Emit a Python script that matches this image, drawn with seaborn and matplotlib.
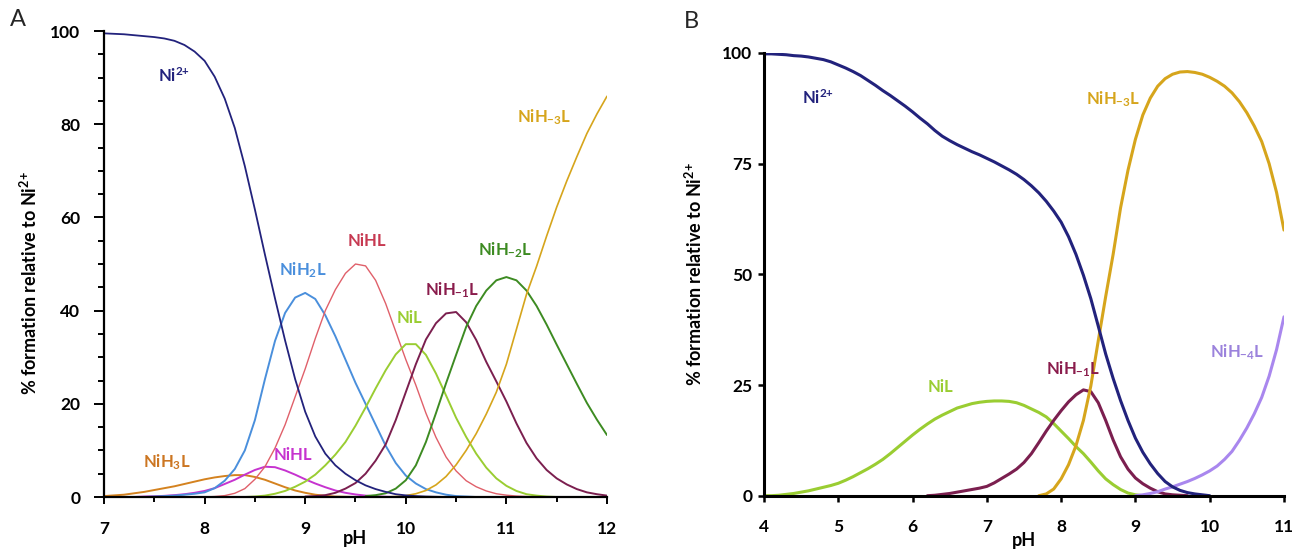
import numpy as np
import seaborn as sns
import matplotlib.pyplot as plt
from matplotlib.ticker import MultipleLocator

nan = np.nan

# ---- panel A : pH 7.0 .. 12.0, step 0.1
ph_a = np.round(np.arange(70, 121) / 10, 1)

ni_a = [99.5, 99.4, 99.3, 99.1, 98.9, 98.7, 98.4, 97.9, 97.0, 95.6,
        93.6, 90.2, 85.5, 79.2, 71.0, 61.7, 52.0, 42.6, 33.6, 25.3,
        18.3, 13.0, 9.3, 6.8, 5.0, 3.6, 2.5, 1.7, 1.1, 0.6,
        0.35, 0.2, 0.1, 0.05, 0.0] + [nan] * 16
nih2l_a = [nan] * 4 + [0.0, 0.1, 0.2, 0.3, 0.5, 0.7,
        1.0, 1.9, 3.5, 6.0, 10.0, 16.5, 25.3, 33.5, 39.5, 42.8,
        43.8, 42.5, 39.0, 34.5, 29.5, 24.5, 20.0, 15.5, 11.0, 7.3,
        4.6, 2.9, 1.7, 1.0, 0.5, 0.2, 0.1, 0.0] + [nan] * 13
nihl_a = [nan] * 10 + [0.0, 0.1, 0.3, 0.8, 1.8, 3.8, 6.5, 10.5, 15.5, 21.5,
        27.5, 34.0, 40.0, 44.5, 48.0, 50.0, 49.6, 46.5, 41.5, 35.5,
        29.5, 24.0, 18.0, 12.8, 8.6, 5.6, 3.5, 2.2, 1.3, 0.7,
        0.4, 0.2, 0.1, 0.0] + [nan] * 7
nihl_small_a = [nan] * 3 + [0.0, 0.1, 0.15, 0.25, 0.4, 0.6, 0.9,
        1.3, 1.9, 2.8, 3.7, 4.8, 5.8, 6.5, 6.4, 5.7, 4.8,
        3.8, 2.9, 2.1, 1.4, 0.9, 0.55, 0.3, 0.15, 0.05, 0.0] + [nan] * 21
nih3l_a = [0.2, 0.35, 0.5, 0.8, 1.1, 1.5, 1.9, 2.3, 2.8, 3.3,
        3.8, 4.2, 4.5, 4.7, 4.7, 4.3, 3.7, 2.9, 2.1, 1.4,
        0.9, 0.5, 0.25, 0.1, 0.05, 0.0] + [nan] * 25
nil_a = [nan] * 14 + [0.0, 0.1, 0.3, 0.7, 1.3, 2.2,
        3.3, 4.8, 6.8, 9.1, 11.8, 15.3, 19.2, 23.3, 27.2, 30.6,
        32.8, 32.8, 30.5, 26.5, 21.8, 17.0, 12.9, 9.3, 6.3, 4.0,
        2.4, 1.3, 0.6, 0.3, 0.1, 0.0] + [nan] * 5
nihm1_a = [nan] * 20 + [0.1, 0.2, 0.4, 0.9, 1.8, 3.0, 5.0, 7.8, 11.3, 16.5,
        22.5, 28.5, 33.8, 37.3, 39.4, 39.7, 37.5, 33.7, 29.0, 24.8,
        20.5, 15.8, 11.6, 8.3, 5.8, 4.0, 2.7, 1.7, 1.0, 0.6, 0.3]
nihm2_a = [nan] * 26 + [0.2, 0.4, 0.8, 1.8,
        3.6, 6.8, 11.8, 18.0, 24.4, 30.5, 36.5, 41.0, 44.3, 46.5,
        47.2, 46.5, 44.3, 41.0, 37.0, 32.7, 28.5, 24.3, 20.2, 16.6, 13.3]
nihm3_a = [nan] * 28 + [0.0, 0.1,
        0.3, 0.7, 1.4, 2.6, 4.4, 6.9, 10.0, 13.6, 17.8, 22.5,
        28.5, 36.0, 43.5, 49.5, 56.0, 62.2, 67.8, 73.0, 78.0, 82.2, 86.0]

# ---- panel B : pH 4.0 .. 11.0, step 0.1
ph_b = np.round(np.arange(40, 111) / 10, 1)

ni_b = [99.8, 99.8, 99.7, 99.6, 99.4, 99.3, 99.1, 98.8, 98.5, 98.0,
        97.3, 96.6, 95.8, 94.9, 93.8, 92.7, 91.5, 90.4, 89.2, 88.0,
        86.7, 85.3, 84.0, 82.5, 81.2, 80.2, 79.3, 78.5, 77.7, 77.0,
        76.2, 75.4, 74.5, 73.6, 72.6, 71.4, 70.0, 68.4, 66.5, 64.3,
        61.8, 58.5, 54.5, 49.8, 44.5, 38.3, 32.0, 26.5, 21.5, 17.0,
        13.0, 9.8, 7.2, 5.0, 3.2, 2.0, 1.2, 0.7, 0.4, 0.2,
        0.0] + [nan] * 10
nil_b = [0.0, 0.0, 0.1, 0.3, 0.5, 0.8, 1.1, 1.5, 1.9, 2.3,
        2.8, 3.5, 4.3, 5.2, 6.1, 7.1, 8.2, 9.5, 10.9, 12.3,
        13.7, 15.0, 16.2, 17.3, 18.2, 19.0, 19.8, 20.3, 20.8, 21.1,
        21.3, 21.4, 21.4, 21.3, 21.0, 20.4, 19.6, 18.8, 17.8, 16.3,
        14.6, 12.9, 11.1, 9.5, 7.6, 5.6, 3.8, 2.5, 1.4, 0.6,
        0.2, 0.0] + [nan] * 19
nihm1_b = [nan] * 22 + [0.0, 0.1, 0.3, 0.5, 0.8, 1.1, 1.4, 1.7,
        2.1, 2.9, 3.9, 4.9, 6.0, 7.5, 9.5, 12.0, 14.6, 17.0,
        19.2, 21.2, 22.8, 23.9, 23.5, 21.0, 17.0, 12.6, 8.8, 6.0,
        4.0, 2.7, 1.7, 0.9, 0.4, 0.2, 0.1, 0.0] + [nan] * 13
nihm3_b = [nan] * 37 + [0.0, 0.4, 1.5,
        3.8, 7.0, 11.3, 17.0, 24.8, 35.0, 45.0, 54.5, 65.0, 73.5,
        80.5, 86.0, 89.8, 92.5, 94.2, 95.2, 95.7, 95.8, 95.6, 95.2,
        94.5, 93.6, 92.5, 91.0, 89.0, 86.5, 83.5, 80.0, 75.0, 68.5, 60.0]
nihm4_b = [nan] * 50 + [0.0, 0.2, 0.5, 0.9, 1.5, 2.0, 2.6, 3.2, 3.9, 4.7,
        5.6, 6.7, 8.2, 10.0, 12.5, 15.3, 18.5, 22.2, 27.0, 33.0, 40.4]

NAVY = "#22227c"
BLUE = "#4a8fdc"
RED = "#e0606a"
MAGENTA = "#c633cf"
ORANGE = "#d4821f"
LIME = "#9acd32"
MAROON = "#7b1f4f"
GREEN = "#3d8b22"
GOLD = "#d6a51c"
LAVENDER = "#a987ee"

sns.set_theme(style="ticks")
plt.rcParams["font.family"] = ["Lato", "DejaVu Sans"]
plt.rcParams["font.weight"] = "bold"
plt.rcParams["mathtext.fontset"] = "custom"
plt.rcParams["mathtext.rm"] = "Lato:bold"
plt.rcParams["mathtext.bf"] = "Lato:bold"
plt.rcParams["mathtext.default"] = "bf"

fig = plt.figure(figsize=(12.92, 5.49), dpi=100)
ax_a = fig.add_axes([0.0805, 0.0947, 0.3893, 0.8488])
ax_b = fig.add_axes([0.5913, 0.0971, 0.4025, 0.8064])

series_a = [
    (nih3l_a, ORANGE, 1.4), (nihl_small_a, MAGENTA, 1.4), (nih2l_a, BLUE, 1.4),
    (nihl_a, RED, 1.0), (nil_a, LIME, 1.4), (nihm1_a, MAROON, 1.4),
    (nihm2_a, GREEN, 1.4), (nihm3_a, GOLD, 1.2), (ni_a, NAVY, 1.3),
]
for vals, col, lw in series_a:
    sns.lineplot(x=ph_a, y=vals, color=col, lw=lw, ax=ax_a)

series_b = [(nil_b, LIME), (nihm1_b, MAROON), (nihm3_b, GOLD),
            (nihm4_b, LAVENDER), (ni_b, NAVY)]
for vals, col in series_b:
    sns.lineplot(x=ph_b, y=vals, color=col, lw=2.2, ax=ax_b)

# labels
NI = r"Ni$^{2{+}}$"
labels_a = [
    (7.7, 90.5, NI, NAVY),
    (11.38, 81.5, r"NiH$_{-3}$L", GOLD),
    (9.61, 55.0, "NiHL", "#c73a52"),
    (8.98, 48.7, r"NiH$_2$L", BLUE),
    (10.99, 53.0, r"NiH$_{-2}$L", GREEN),
    (10.46, 44.4, r"NiH$_{-1}$L", "#8a1c4c"),
    (10.04, 38.4, "NiL", LIME),
    (8.88, 9.0, "NiHL", MAGENTA),
    (7.62, 7.5, r"NiH$_3$L", "#cc7622"),
]
for x, y, t, c in labels_a:
    ax_a.text(x, y, t, color=c, fontsize=12, fontweight="bold", ha="center", va="center")

labels_b = [
    (4.73, 89.8, NI, NAVY),
    (8.7, 89.5, r"NiH$_{-3}$L", GOLD),
    (10.37, 32.4, r"NiH$_{-4}$L", "#9b82dc"),
    (8.16, 28.6, r"NiH$_{-1}$L", "#8a1c4c"),
    (6.37, 24.5, "NiL", LIME),
]
for x, y, t, c in labels_b:
    ax_b.text(x, y, t, color=c, fontsize=12, fontweight="bold", ha="center", va="center")

# axes A
ax_a.set_xlim(7, 12)
ax_a.set_ylim(0, 100)
ax_a.xaxis.set_major_locator(MultipleLocator(1))
ax_a.xaxis.set_minor_locator(MultipleLocator(0.5))
ax_a.yaxis.set_major_locator(MultipleLocator(20))
ax_a.yaxis.set_minor_locator(MultipleLocator(5))
ax_a.tick_params(axis="x", which="major", length=5, width=1.4, pad=12, labelsize=12.5, color="black")
ax_a.tick_params(axis="x", which="minor", length=3.4, width=1.4, color="black")
ax_a.tick_params(axis="y", which="major", length=7, width=1.4, pad=10, labelsize=12.5, color="black")
ax_a.tick_params(axis="y", which="minor", length=4, width=1.4, color="black")

# axes B
ax_b.set_xlim(4, 11)
ax_b.set_ylim(0, 100)
ax_b.xaxis.set_major_locator(MultipleLocator(1))
ax_b.yaxis.set_major_locator(MultipleLocator(25))
ax_b.tick_params(axis="x", length=4.5, width=1.8, pad=12, labelsize=12.5, color="black")
ax_b.tick_params(axis="y", length=4.5, width=1.8, pad=4, labelsize=12.5, color="black")

for ax, slw in [(ax_a, 1.6), (ax_b, 2.2)]:
    sns.despine(ax=ax)
    for s in ["left", "bottom"]:
        ax.spines[s].set_color("black")
        ax.spines[s].set_linewidth(slw)
    ax.set_xlabel("pH", fontsize=13, fontweight="bold", color="black")
    ax.set_ylabel(r"% formation relative to " + NI, fontsize=13,
                  fontweight="bold", color="black")
    for lab in ax.get_xticklabels() + ax.get_yticklabels():
        lab.set_fontweight("bold")
        lab.set_color("black")

ax_a.xaxis.set_label_coords(0.5, -0.071)
ax_a.yaxis.set_label_coords(-0.127, 0.46)
ax_b.xaxis.set_label_coords(0.5, -0.083)
ax_b.yaxis.set_label_coords(-0.113, 0.5)

fig.text(0.0139, 0.9636, "A", fontsize=17, fontweight="normal", ha="center", va="center")
fig.text(0.5348, 0.9617, "B", fontsize=17, fontweight="normal", ha="center", va="center")

fig.savefig("out.png", dpi=100, facecolor="white")
